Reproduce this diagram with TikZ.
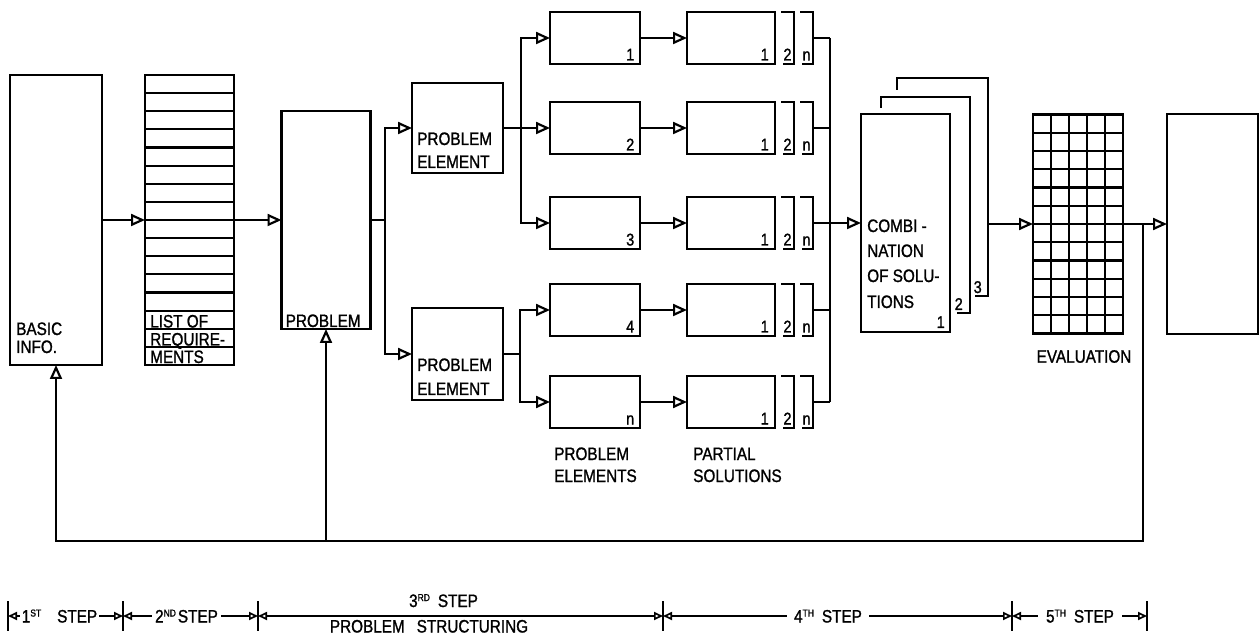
\documentclass[tikz,border=0pt]{standalone}
\usepackage{fontspec}
\setmainfont{Liberation Sans}[FakeStretch=0.85,FakeBold=1.2]
\usetikzlibrary{arrows.meta,calc}
\newcommand\sups[1]{\raisebox{6pt}{\fontsize{10}{10}\selectfont #1}}
\tikzset{
  tri/.tip={Triangle[length=14pt,width=12pt,fill=white,line width=2.2pt]},
  dtri/.tip={Triangle[length=9pt,width=8pt,fill=white,line width=1.7pt]},
  box/.style={draw,line width=2.5pt,inner sep=0pt,outer sep=0pt},
  inner/.style={line width=2.1pt},
  lbl/.style={inner sep=0pt,font=\fontsize{18}{18}\selectfont},
  num/.style={inner sep=0pt,font=\fontsize{17}{17}\selectfont},
  dim/.style={line width=1.8pt,arrows={dtri-dtri}},
  stepl/.style={inner ysep=1pt,font=\fontsize{18}{18}\selectfont,fill=white},
}
\begin{document}
\begin{tikzpicture}[x=1pt,y=-1pt,line width=2.5pt]
\useasboundingbox (0,0) rectangle (1259,636);

% ---- boxes
\node[box,minimum width=92pt,minimum height=290pt] (basic) at (56,220) {};
\node[box,minimum width=89pt,minimum height=290pt] (list) at (189.5,220) {};
\foreach \i in {1,...,15}
  \draw[inner] ($(list.north west)!\i/16!(list.south west)$) -- ($(list.north east)!\i/16!(list.south east)$);
\node[box,minimum width=89pt,minimum height=218pt] (prob) at (326,220) {};
\node[box,minimum width=91pt,minimum height=90pt] (pe1) at (457.5,128) {};
\node[box,minimum width=91pt,minimum height=92pt] (pe2) at (457.5,354) {};
\foreach \i/\yy in {1/38,2/128,3/223,4/310,5/402}{
  \node[box,minimum width=90pt,minimum height=52pt] (e\i) at (595,\yy) {};
  \node[box,minimum width=88pt,minimum height=52pt] (s\i) at (731,\yy) {};
}
\node[box,minimum width=89pt,minimum height=218pt] (comb) at (905.5,223) {};
\node[box,minimum width=90pt,minimum height=219pt] (eval) at (1078,224) {};
\foreach \i in {1,...,4}
  \draw[inner] ($(eval.north west)!\i/5!(eval.north east)$) -- ($(eval.south west)!\i/5!(eval.south east)$);
\foreach \i in {1,...,11}
  \draw[inner] ($(eval.north west)!\i/12!(eval.south west)$) -- ($(eval.north east)!\i/12!(eval.south east)$);
\node[box,minimum width=91pt,minimum height=220pt] (final) at (1212.5,224) {};

% ---- stacked cards behind the combination box
\draw (881,108) -- (881,97) -- (970,97) -- (970,313) -- (957,313);
\draw (897,90) -- (897,78) -- (988,78) -- (988,296) -- (975,296);
\coordinate (c3) at (988,224);

% ---- brackets 2 and n behind the partial solutions
\foreach \i in {1,...,5}{
  \draw[inner] ([xshift=6pt]s\i.north east) -- ([xshift=19pt]s\i.north east) -- ([xshift=19pt]s\i.south east) -- ([xshift=8pt]s\i.south east);
  \draw[inner] ([xshift=25pt]s\i.north east) -- ([xshift=38pt]s\i.north east) -- ([xshift=38pt]s\i.south east) -- ([xshift=27pt]s\i.south east);
  \node[num,anchor=base] at ([xshift=12.5pt,yshift=3.5pt]s\i.south east) {2};
  \node[num,anchor=base] at ([xshift=31.5pt,yshift=3.5pt]s\i.south east) {n};
  \node[num,anchor=base east] at ([xshift=-5pt,yshift=3.5pt]s\i.south east) {1};
}
\foreach \i/\t in {1/1,2/2,3/3,4/4,5/n}
  \node[num,anchor=base east] at ([xshift=-4.5pt,yshift=3.5pt]e\i.south east) {\t};

% ---- texts
\node[lbl,anchor=base west] at ([xshift=5pt,yshift=30pt]basic.south west) {BASIC};
\node[lbl,anchor=base west] at ([xshift=5pt,yshift=12pt]basic.south west) {INFO.};
\node[lbl,anchor=base west] at ([xshift=4pt,yshift=37.5pt]list.south west) {LIST OF};
\node[lbl,anchor=base west] at ([xshift=4pt,yshift=19.5pt]list.south west) {REQUIRE-};
\node[lbl,anchor=base west] at ([xshift=4pt,yshift=2pt]list.south west) {MENTS};
\node[lbl,anchor=base west] at ([xshift=3pt,yshift=2pt]prob.south west) {PROBLEM};
\node[lbl,anchor=base west] at ([xshift=4pt,yshift=28pt]pe1.south west) {PROBLEM};
\node[lbl,anchor=base west] at ([xshift=4pt,yshift=5pt]pe1.south west) {ELEMENT};
\node[lbl,anchor=base west] at ([xshift=4pt,yshift=29pt]pe2.south west) {PROBLEM};
\node[lbl,anchor=base west] at ([xshift=4pt,yshift=5pt]pe2.south west) {ELEMENT};
\node[lbl,anchor=base west] at (866,232) {COMBI -};
\node[lbl,anchor=base west] at (866,257) {NATION};
\node[lbl,anchor=base west] at (866,282) {OF SOLU-};
\node[lbl,anchor=base west] at (866,308) {TIONS};
\node[num,anchor=base east] at ([xshift=-4pt,yshift=4pt]comb.south east) {1};
\node[num,anchor=base east] at (964,310) {2};
\node[num,anchor=base east] at (983,293) {3};
\node[lbl,anchor=base] at (1084,362.7) {EVALUATION};
\node[lbl,anchor=base west] at (553,460) {PROBLEM};
\node[lbl,anchor=base west] at (553,482) {ELEMENTS};
\node[lbl,anchor=base west] at (692,460) {PARTIAL};
\node[lbl,anchor=base west] at (692,482) {SOLUTIONS};

% ---- connectors
\draw[-tri] (basic.east) -- (list.west);
\draw[-tri] (list.east) -- (prob.west);
\coordinate (j1) at (385,0);
\draw (prob.east) -- (prob.east -| j1);
\draw[-tri] (prob.east -| j1) |- (pe1.west);
\draw[-tri] (prob.east -| j1) |- (pe2.west);
\coordinate (j2) at (521,0);
\draw[-tri] (pe1.east) -- (e2.west);
\draw[-tri] (pe1.east -| j2) |- (e1.west);
\draw[-tri] (pe1.east -| j2) |- (e3.west);
\coordinate (j3) at (520,0);
\draw (pe2.east) -- (pe2.east -| j3);
\draw[-tri] (pe2.east -| j3) |- (e4.west);
\draw[-tri] (pe2.east -| j3) |- (e5.west);
\foreach \i in {1,...,5}
  \draw[-tri] (e\i.east) -- (s\i.west);
\coordinate (col) at (830,0);
\foreach \i in {1,...,5}
  \draw ([xshift=38pt]s\i.east) -- (s\i.east -| col);
\draw (s1.east -| col) -- (s5.east -| col);
\draw[-tri] (comb.west -| col) -- (comb.west);
\draw[-tri] (c3) -- (c3 -| eval.west);
\draw[-tri] (eval.east) -- (eval.east -| final.west);
\coordinate (j5) at (1143,0);
\coordinate (fb) at (0,541);
\draw[-tri] (eval.east -| j5) -- (j5 |- fb) -- (basic.south |- fb) -- (basic.south);
\draw[-tri] (prob.south |- fb) -- (prob.south);

% ---- step scale
\foreach \n/\x in {t1/8,t2/123,t3/258,t4/663,t5/1012,t6/1147}{
  \coordinate (\n) at (\x,616);
  \draw[line width=1.8pt] ([yshift=15pt]\n) -- ([yshift=-15pt]\n);
}
\draw[dim] (t1) -- (t2);
\draw[dim] (t2) -- (t3);
\draw[dim] (t3) -- (t4);
\draw[dim] (t4) -- (t5);
\draw[dim] (t5) -- (t6);
\node[stepl,anchor=base,inner xsep=2pt] at (59.5,622.5) {1\sups{ST}\hspace{16pt}STEP};
\node[stepl,anchor=base,inner xsep=3pt] at (186.5,622.5) {2\sups{ND}\hspace{2pt}STEP};
\node[lbl,anchor=base] at (443.5,607) {3\sups{RD}\hspace{8pt}STEP};
\node[lbl,anchor=base] at (429,632.5) {PROBLEM\hspace{12pt}STRUCTURING};
\node[stepl,anchor=base,inner xsep=7.5pt] at (828,622.5) {4\sups{TH}\hspace{8pt}STEP};
\node[stepl,anchor=base,inner xsep=8pt] at (1080,622.5) {5\sups{TH}\hspace{8pt}STEP};
\end{tikzpicture}
\end{document}
